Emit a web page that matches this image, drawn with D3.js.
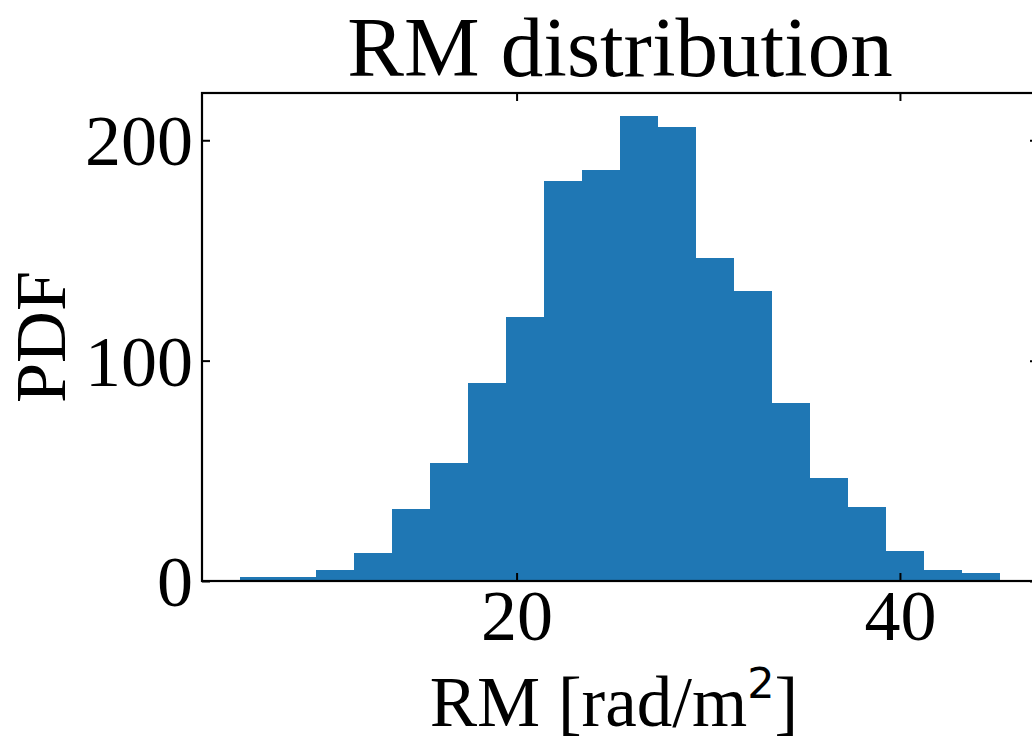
<!DOCTYPE html>
<html>
<head>
<meta charset="utf-8">
<script src="https://cdn.jsdelivr.net/npm/d3@7"></script>
<style>
  html, body { margin: 0; padding: 0; background: #fff; }
  svg { display: block; }
  .serif { font-family: "Liberation Serif", "Times New Roman", serif; }
</style>
</head>
<body>
<div id="chart"></div>
<script>
// Histogram of rotation measure samples: 20 equal-width bins.
const binStart = 5.57;      // left edge of first bin [rad/m^2]
const binWidth = 1.9825;    // bin width [rad/m^2]
const counts = [1.8, 1.8, 5, 12.7, 32.7, 53.6, 90, 120, 181.7, 186.7,
                210.9, 205.8, 146.7, 131.7, 80.8, 46.7, 33.5, 13.6, 5, 3.6];
const xTicks = [20, 40];
const yTicks = [0, 100, 200];
const titleText = "RM distribution";
const yLabelText = "PDF";

const W = 1032, H = 740;
const margin = { left: 202, top: 93, right: 1038, bottom: 581 };

const bins = counts.map((c, i) => ({
  x0: binStart + i * binWidth,
  x1: binStart + (i + 1) * binWidth,
  value: c
}));

// Matplotlib-style 5% padding on x, 5% headroom on y
const xMin = bins[0].x0, xMax = bins[bins.length - 1].x1;
const pad = 0.05 * (xMax - xMin);
const x = d3.scaleLinear()
  .domain([xMin - pad, xMax + pad])
  .range([margin.left, margin.right]);
const y = d3.scaleLinear()
  .domain([0, d3.max(counts) * 1.05])
  .range([margin.bottom, margin.top]);

const svg = d3.select("#chart").append("svg")
  .attr("width", W).attr("height", H)
  .style("overflow", "hidden");

// Bars
svg.append("g").selectAll("rect")
  .data(bins)
  .join("rect")
  .attr("x", d => x(d.x0))
  .attr("width", d => x(d.x1) - x(d.x0))
  .attr("y", d => y(d.value))
  .attr("height", d => y(0) - y(d.value))
  .attr("fill", "#1f77b4")
  .attr("shape-rendering", "crispEdges");

const tickLen = 8;
const fontTick = 72;

function styleAxis(g) {
  g.select(".domain").remove();
  g.selectAll(".tick line").attr("stroke", "#000").attr("stroke-width", 2);
}

// Bottom axis (ticks pointing inward)
svg.append("g")
  .attr("transform", `translate(0,${margin.bottom})`)
  .call(d3.axisBottom(x).tickValues(xTicks).tickSize(-tickLen).tickPadding(8).tickFormat(d3.format("d")))
  .call(styleAxis)
  .call(g => g.selectAll("text")
    .attr("class", "serif")
    .attr("font-size", fontTick)
    .attr("fill", "#000"));

// Top axis (ticks only)
svg.append("g")
  .attr("transform", `translate(0,${margin.top})`)
  .call(d3.axisTop(x).tickValues(xTicks).tickSize(-tickLen).tickFormat(""))
  .call(styleAxis);

// Left axis
svg.append("g")
  .attr("transform", `translate(${margin.left},0)`)
  .call(d3.axisLeft(y).tickValues(yTicks).tickSize(-tickLen).tickPadding(9).tickFormat(d3.format("d")))
  .call(styleAxis)
  .call(g => g.selectAll("text")
    .attr("class", "serif")
    .attr("font-size", fontTick)
    .attr("dy", "0.34em")
    .attr("fill", "#000"));

// Right axis (ticks only)
svg.append("g")
  .attr("transform", `translate(${margin.right},0)`)
  .call(d3.axisRight(y).tickValues(yTicks).tickSize(-tickLen).tickFormat(""))
  .call(styleAxis);

// Frame
svg.append("rect")
  .attr("x", margin.left).attr("y", margin.top)
  .attr("width", margin.right - margin.left)
  .attr("height", margin.bottom - margin.top)
  .attr("fill", "none")
  .attr("stroke", "#000")
  .attr("stroke-width", 2.2);

const cx = (margin.left + margin.right) / 2;

// Title
svg.append("text")
  .attr("class", "serif")
  .attr("x", cx).attr("y", 76)
  .attr("text-anchor", "middle")
  .attr("font-size", 85)
  .attr("fill", "#000")
  .text(titleText);

// X label with superscript
const xl = svg.append("text")
  .attr("class", "serif")
  .attr("x", cx - 6).attr("y", 726)
  .attr("text-anchor", "middle")
  .attr("font-size", 71)
  .attr("fill", "#000");
xl.append("tspan").text("RM [rad/m");
xl.append("tspan")
  .attr("font-family", "DejaVu Sans, sans-serif")
  .attr("font-size", 43)
  .attr("dy", -28)
  .text("2");
xl.append("tspan").attr("dy", 28).text("]");

// Y label
svg.append("text")
  .attr("class", "serif")
  .attr("transform", `translate(65,${(margin.top + margin.bottom) / 2}) rotate(-90)`)
  .attr("text-anchor", "middle")
  .attr("font-size", 72)
  .attr("fill", "#000")
  .text(yLabelText);
</script>
</body>
</html>
